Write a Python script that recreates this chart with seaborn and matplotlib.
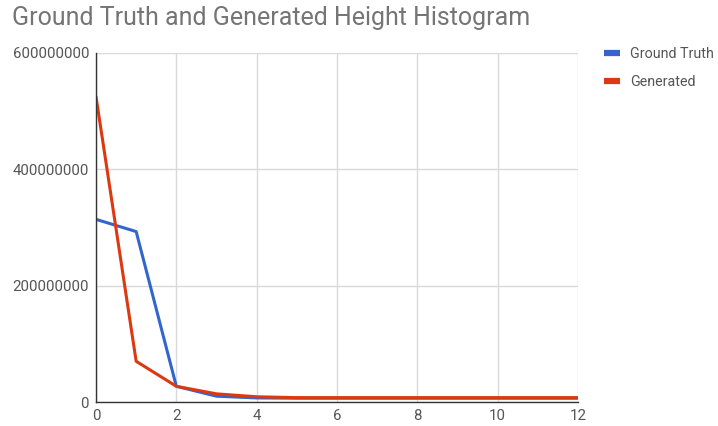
import matplotlib
matplotlib.use("Agg")
import matplotlib.pyplot as plt
import seaborn as sns
import pandas as pd
from matplotlib.lines import Line2D

x_vals = list(range(13))
ground_truth = [314000000, 293000000, 27000000, 10000000, 7000000, 6500000, 6500000,
                6500000, 6500000, 6500000, 6500000, 6500000, 6500000]
generated = [525000000, 70000000, 27000000, 14000000, 9000000, 7500000, 7500000,
             7500000, 7500000, 7500000, 7500000, 7500000, 7500000]
series_names = ["Ground Truth", "Generated"]
colors = ["#3366cc", "#dc3912"]
y_ticks = [0, 200000000, 400000000, 600000000]
x_ticks = [0, 2, 4, 6, 8, 10, 12]

df = pd.DataFrame({
    "x": x_vals * 2,
    "value": ground_truth + generated,
    "series": [series_names[0]] * len(x_vals) + [series_names[1]] * len(x_vals),
})

sns.set_style("white")
plt.rcParams["font.family"] = ["Roboto", "DejaVu Sans"]

fig = plt.figure(figsize=(7.18, 4.26), dpi=100)
ax = fig.add_axes([96 / 718, 1 - 402 / 426, (578 - 96) / 718, (402 - 53) / 426])

sns.lineplot(data=df, x="x", y="value", hue="series", palette=colors,
             hue_order=series_names, linewidth=2.2, ax=ax, legend=False)

ax.set_xlim(0, 12)
ax.set_ylim(0, 600000000)
ax.set_xticks(x_ticks)
ax.set_yticks(y_ticks)
ax.set_xticklabels([str(t) for t in x_ticks])
ax.set_yticklabels([str(t) for t in y_ticks])
ax.grid(True, color="#d9d9d9", linewidth=1)
ax.set_axisbelow(True)
for s in ["top", "right"]:
    ax.spines[s].set_visible(False)
for s in ["left", "bottom"]:
    ax.spines[s].set_color("#333333")
    ax.spines[s].set_linewidth(1)
ax.tick_params(axis="both", length=0, labelsize=10.8, labelcolor="#555555", pad=5)
ax.set_xlabel("")
ax.set_ylabel("")

fig.text(12 / 718, 1 - 18 / 426, "Ground Truth and Generated Height Histogram",
         fontsize=18, color="#757575", va="center", ha="left")

handles = [Line2D([0], [0], color=c, linewidth=4.5, solid_capstyle="butt") for c in colors]
fig.legend(handles, series_names, loc="upper left",
           bbox_to_anchor=(604 / 718, 1 - 47 / 426), frameon=False, borderpad=0,
           borderaxespad=0, fontsize=10.3, handlelength=1.1, handletextpad=0.75,
           labelspacing=0.95, labelcolor="#555555")

fig.savefig("out.png", dpi=100)
